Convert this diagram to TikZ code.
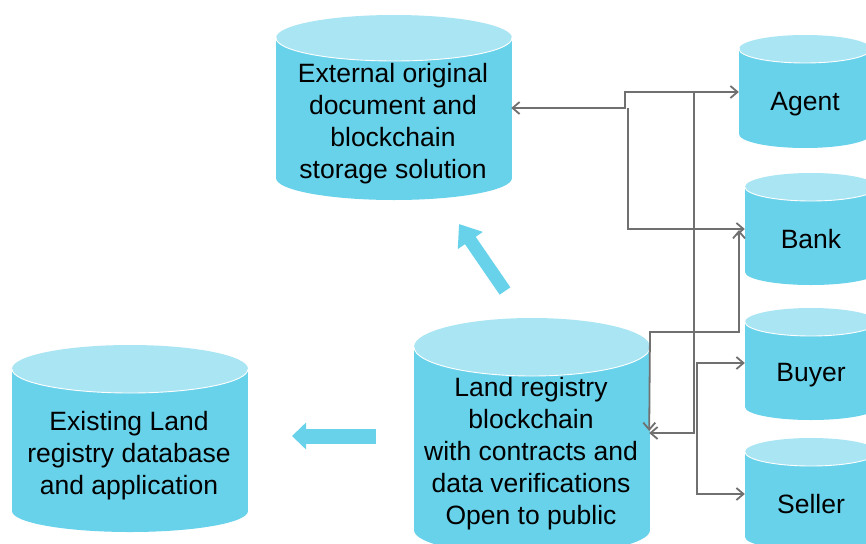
\documentclass[tikz,border=0pt]{standalone}
\usepackage{fontspec}
\setmainfont{Liberation Sans}
\usetikzlibrary{arrows.meta}

\definecolor{cylside}{RGB}{104,210,234}
\definecolor{cyltop}{RGB}{170,229,243}
\definecolor{linkgray}{RGB}{112,112,112}
\definecolor{flowcyan}{RGB}{104,210,234}

% cylinder: left x, right x, top-centre y, top y-radius, bottom y, bottom y-radius
\newcommand{\drawcyl}[6]{%
  \pgfmathsetmacro{\cylcx}{(#1+#2)/2}%
  \pgfmathsetmacro{\cylrx}{(#2-#1)/2}%
  \fill[cylside] (#1,#3) rectangle (#2,#5);
  \fill[cylside] (\cylcx,#5) ellipse[x radius=\cylrx, y radius=#6];
  \fill[cyltop] (\cylcx,#3) ellipse[x radius=\cylrx, y radius=#4];
  \begin{scope}
    \clip (#1-1,#3) rectangle (#2+1,#3+#4+2);
    \draw[white, line width=0.9pt] (\cylcx,#3) ellipse[x radius=\cylrx, y radius=#4];
  \end{scope}
}

\tikzset{
  cyltext/.style={font=\fontsize{26.5}{32}\selectfont, align=center, inner sep=0pt, text=black},
  link/.style={draw=linkgray, line width=1.8pt, line join=miter,
    >={Straight Barb[length=7pt,width=12pt]}},
  bigflow/.style={draw=flowcyan, fill=flowcyan}
}

\begin{document}
\begin{tikzpicture}[x=1pt,y=-1pt]
  \useasboundingbox (0,0) rectangle (866,543);
  \clip (0,0) rectangle (866,543);
  \fill[white] (0,0) rectangle (866,543);

  % storage cylinders
  \drawcyl{276}{512}{38}{23}{178}{22}
  \drawcyl{414}{650}{347}{29}{530}{25}
  \drawcyl{12}{248}{369}{24}{511}{21}
  \drawcyl{739}{871}{49}{14}{134}{14}
  \drawcyl{745}{877}{187}{14}{272}{13}
  \drawcyl{745}{877}{322}{14}{407}{13}
  \drawcyl{745}{877}{452}{14}{537}{13}

  % labels
  \node[cyltext, minimum width=236pt] (ext) at (393,124)
    {External original\\document and\\blockchain\\storage solution};
  \node[cyltext, minimum width=236pt] (land) at (531,454)
    {Land registry\\blockchain\\with contracts and\\data verifications\\Open to public};
  \node[cyltext, minimum width=236pt] (exist) at (129,456)
    {Existing Land\\registry database\\and application};
  \node[cyltext, minimum width=132pt] (agent) at (805,104) {Agent};
  \node[cyltext, minimum width=132pt] (bank) at (811,239) {Bank};
  \node[cyltext, minimum width=132pt] (buyer) at (811,375) {Buyer};
  \node[cyltext, minimum width=132pt] (seller) at (811,504) {Seller};

  % routing corners
  \coordinate (ea) at (625,108);
  \coordinate (eb) at (625,92);
  \coordinate (ec) at (628,108);
  \coordinate (ed) at (628,229);
  \coordinate (ta) at (694,92);
  \coordinate (tb) at (694,433);
  \coordinate (sa) at (697,433);
  \coordinate (sb) at (697,363);
  \coordinate (sc) at (697,494);
  \coordinate (ka) at (650,431);
  \coordinate (kb) at (650,332);
  \coordinate (kc) at (739,332);
  \coordinate (kd) at (739,230);

  % data links
  \draw[link,<->] (ext.east |- ea) -- (ea) -- (eb) -- (agent.west |- eb);
  \draw[link,->] (ec) -- (ed) -- (bank.west |- ed);
  \draw[link,->] (ta) -- (tb) -- (land.east |- tb);
  \draw[link,->] (sa) -- (sb) -- (buyer.west |- sb);
  \draw[link,->] (sa) -- (sc) -- (seller.west |- sc);
  \draw[link,<->] (land.east |- ka) -- (kb) -- (kc) -- (kd);

  % block arrows out of the land registry blockchain
  \coordinate (u0) at (505,291);
  \coordinate (u1) at (459,224);
  \draw[bigflow, line width=13pt, -{Triangle[length=20pt,width=29pt]}] (u0) -- (u1);
  \coordinate (l0) at (376,436);
  \coordinate (l1) at (292,436);
  \draw[bigflow, line width=15pt, -{Triangle[length=14pt,width=26pt]}] (l0) -- (l1);
\end{tikzpicture}
\end{document}
